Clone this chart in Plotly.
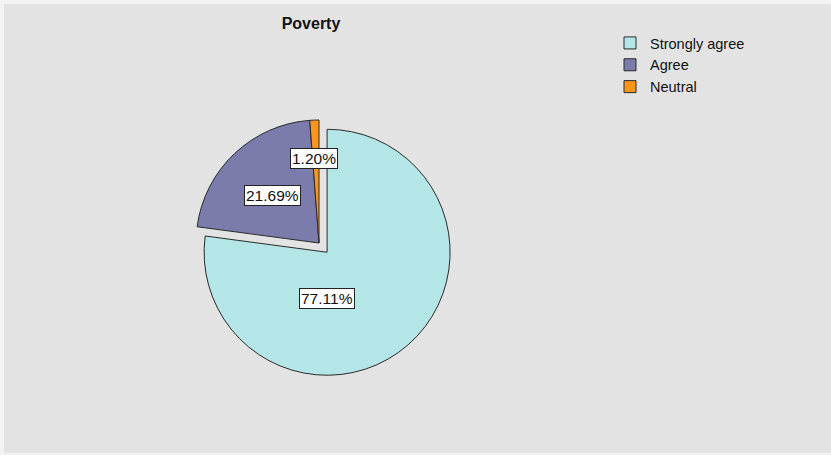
import plotly.graph_objects as go

# ---- data ----
categories = ["Strongly agree", "Agree", "Neutral"]
values = [77.11, 21.69, 1.20]
label_texts = ["77.11%", "21.69%", "1.20%"]

# ---- style ----
colors = ["#b4e6e8", "#7b7bac", "#f7951d"]
pulls = [0.1, 0.0, 0.0]
W, H = 831, 455
CX, CY = 319, 243          # pie centre in pixels (from top-left)
R = 123                    # pie radius in pixels
# label offsets (in units of the radius) relative to the pie centre
label_offsets = [(0.065, 0.45), (-0.374, -0.39), (-0.042, -0.69)]
FONT = "Liberation Sans, Arial, sans-serif"

max_pull = max(pulls)
half = R * (1 + max_pull)
dom_x = [(CX - half) / W, (CX + half) / W]
dom_y = [(H - CY - half) / H, (H - CY + half) / H]

fig = go.Figure()
fig.add_trace(go.Pie(
    labels=categories,
    values=values,
    sort=False,
    direction="clockwise",
    rotation=0,
    pull=pulls,
    marker=dict(colors=colors, line=dict(color="#2a2a2a", width=1)),
    textinfo="none",
    hoverinfo="label+percent",
    domain=dict(x=dom_x, y=dom_y),
))

annotations = []
for txt, (dx, dy) in zip(label_texts, label_offsets):
    annotations.append(dict(
        x=(CX + dx * R) / W, y=(H - CY - dy * R) / H,
        xref="paper", yref="paper",
        text=txt, showarrow=False,
        font=dict(family=FONT, size=15.5, color="#111111"),
        bgcolor="#ffffff", bordercolor="#222222", borderwidth=1, borderpad=1,
        xanchor="center", yanchor="middle",
    ))

fig.update_layout(
    width=W, height=H,
    margin=dict(l=0, r=0, t=0, b=0),
    paper_bgcolor="#f3f3f3",
    plot_bgcolor="#e3e3e3",
    title=dict(text="<b>Poverty</b>", x=311 / W, y=1 - 23 / H,
               xanchor="center", yanchor="middle",
               font=dict(family=FONT, size=16, color="#111111")),
    showlegend=True,
    legend=dict(x=610 / W, y=1 - 27 / H, xanchor="left", yanchor="top",
                bgcolor="rgba(0,0,0,0)",
                font=dict(family=FONT, size=14.5, color="#111111"),
                tracegroupgap=0, itemwidth=30),
    shapes=[dict(type="rect", xref="paper", yref="paper",
                 x0=4 / W, x1=1, y0=2 / H, y1=1 - 4 / H,
                 fillcolor="#e3e3e3", line=dict(width=0), layer="below")],
    annotations=annotations,
)

fig.write_html(
    "out.html",
    config={"displayModeBar": False},
    post_script="document.body.style.margin='0';document.body.style.padding='0';",
)
